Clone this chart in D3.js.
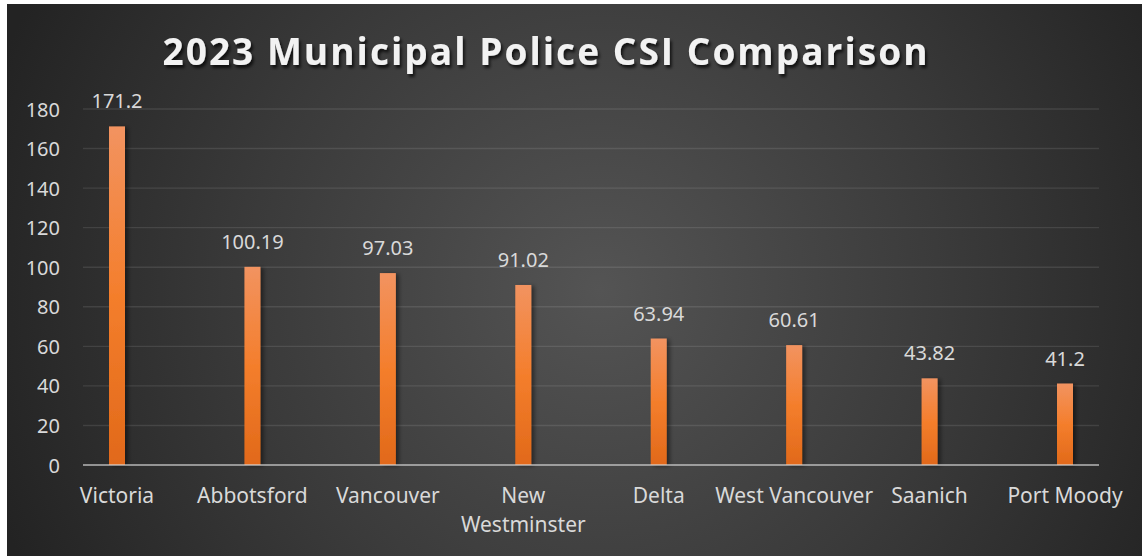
<!DOCTYPE html>
<html>
<head>
<meta charset="utf-8">
<script src="https://cdn.jsdelivr.net/npm/d3@7"></script>
<style>
  html, body { margin: 0; padding: 0; background: #ffffff; }
  svg { display: block; }
</style>
</head>
<body>
<svg id="chart" width="1142" height="556"></svg>
<script>
// 2023 Crime Severity Index by municipal police department
const categories = ["Victoria", "Abbotsford", "Vancouver", "New Westminster", "Delta", "West Vancouver", "Saanich", "Port Moody"];
const csiValues = [171.2, 100.19, 97.03, 91.02, 63.94, 60.61, 43.82, 41.2];
const valueLabels = ["171.2", "100.19", "97.03", "91.02", "63.94", "60.61", "43.82", "41.2"];
const yTicks = [0, 20, 40, 60, 80, 100, 120, 140, 160, 180];
const chartTitle = "2023 Municipal Police CSI Comparison";

const W = 1142, H = 556;
const svg = d3.select("#chart");
const defs = svg.append("defs");

// dark radial backdrop
const bg = defs.append("radialGradient").attr("id", "bgGrad")
  .attr("gradientUnits", "userSpaceOnUse")
  .attr("cx", 600).attr("cy", 290).attr("r", 640);
bg.append("stop").attr("offset", "0").attr("stop-color", "#545454");
bg.append("stop").attr("offset", "0.55").attr("stop-color", "#3a3a3a");
bg.append("stop").attr("offset", "1").attr("stop-color", "#232323");

// orange bar fill, lighter at the top
const barGrad = defs.append("linearGradient").attr("id", "barGrad")
  .attr("x1", 0).attr("y1", 0).attr("x2", 0).attr("y2", 1);
barGrad.append("stop").attr("offset", "0").attr("stop-color", "#F29360");
barGrad.append("stop").attr("offset", "0.5").attr("stop-color", "#F47E2C");
barGrad.append("stop").attr("offset", "1").attr("stop-color", "#E1691A");

const titleShadow = defs.append("filter").attr("id", "titleShadow")
  .attr("x", "-5%").attr("y", "-30%").attr("width", "110%").attr("height", "160%");
titleShadow.append("feDropShadow").attr("dx", 2).attr("dy", 3)
  .attr("stdDeviation", 1.6).attr("flood-color", "#000").attr("flood-opacity", 0.7);

const barShadow = defs.append("filter").attr("id", "barShadow")
  .attr("x", "-50%").attr("y", "-5%").attr("width", "200%").attr("height", "110%");
barShadow.append("feDropShadow").attr("dx", 3).attr("dy", 1)
  .attr("stdDeviation", 2).attr("flood-color", "#000").attr("flood-opacity", 0.45);

svg.append("rect").attr("x", 7).attr("y", 4).attr("width", W - 7).attr("height", H - 4)
  .attr("fill", "url(#bgGrad)");

// scales
const y = d3.scaleLinear().domain([0, 180]).range([465, 109]);
const x = d3.scalePoint().domain(categories).range([117, 1065]);
const gridX0 = 83, gridX1 = 1099;
const barW = 16;

// gridlines
svg.append("g").selectAll("line")
  .data(yTicks.filter(t => t > 0))
  .join("line")
  .attr("x1", gridX0).attr("x2", gridX1)
  .attr("y1", d => y(d)).attr("y2", d => y(d))
  .attr("stroke", "#ffffff").attr("stroke-opacity", 0.1).attr("stroke-width", 1.4);

// y tick labels
svg.append("g").selectAll("text")
  .data(yTicks)
  .join("text")
  .attr("x", 60).attr("y", d => y(d))
  .attr("text-anchor", "end").attr("dominant-baseline", "central")
  .attr("font-family", "'Noto Sans', sans-serif").attr("font-size", 20)
  .attr("fill", "#d9d9d9")
  .text(d => d);

// bars
svg.append("g").selectAll("rect")
  .data(categories)
  .join("rect")
  .attr("x", (d) => x(d) - barW / 2)
  .attr("y", (d, i) => y(csiValues[i]))
  .attr("width", barW)
  .attr("height", (d, i) => y(0) - y(csiValues[i]))
  .attr("fill", "url(#barGrad)")
  .attr("filter", "url(#barShadow)");

// baseline axis
svg.append("line")
  .attr("x1", gridX0).attr("x2", gridX1).attr("y1", y(0)).attr("y2", y(0))
  .attr("stroke", "#d9d9d9").attr("stroke-opacity", 0.6).attr("stroke-width", 2);

// value labels
svg.append("g").selectAll("text")
  .data(categories)
  .join("text")
  .attr("x", d => x(d))
  .attr("y", (d, i) => y(csiValues[i]) - 18)
  .attr("text-anchor", "middle")
  .attr("font-family", "'Noto Sans', sans-serif").attr("font-size", 20)
  .attr("fill", "#d9d9d9")
  .text((d, i) => valueLabels[i]);

// category labels (long names wrap onto a second line)
const catG = svg.append("g");
categories.forEach(c => {
  const lines = c === "New Westminster" ? ["New", "Westminster"] : [c];
  const t = catG.append("text")
    .attr("x", x(c)).attr("y", 503)
    .attr("text-anchor", "middle")
    .attr("font-family", "'Noto Sans', sans-serif").attr("font-size", 21)
    .attr("fill", "#d9d9d9");
  lines.forEach((ln, k) => {
    t.append("tspan").attr("x", x(c)).attr("dy", k === 0 ? 0 : 29).text(ln);
  });
});

// title
svg.append("text")
  .attr("x", 545).attr("y", 65)
  .attr("text-anchor", "middle")
  .attr("font-family", "'Open Sans', sans-serif").attr("font-weight", "bold")
  .attr("font-size", 37)
  .attr("textLength", 765).attr("lengthAdjust", "spacing")
  .attr("fill", "#f2f2f2")
  .attr("filter", "url(#titleShadow)")
  .text(chartTitle);
</script>
</body>
</html>
